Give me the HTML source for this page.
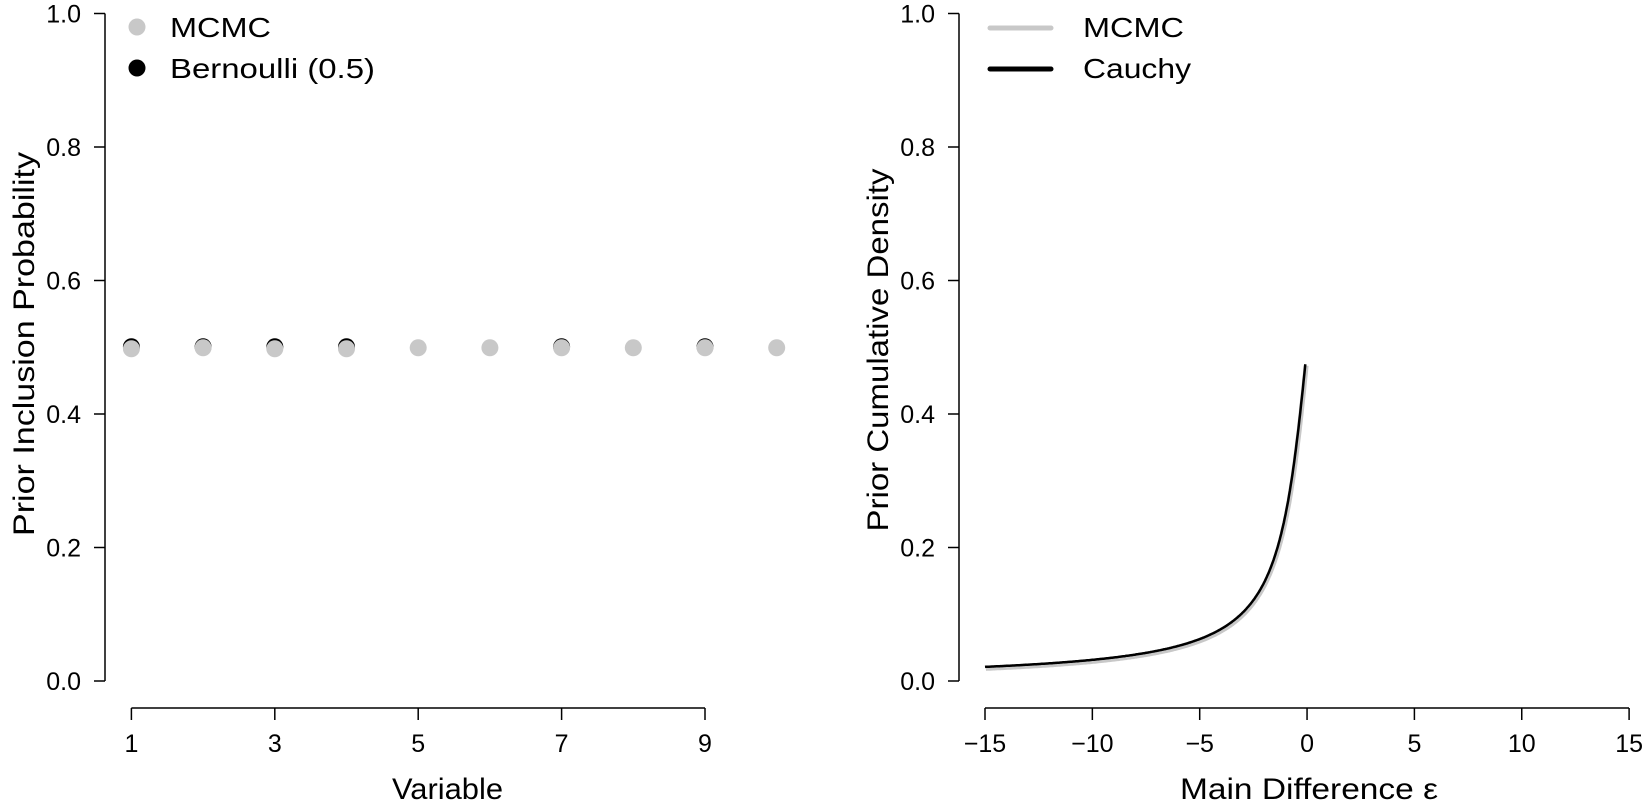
<!DOCTYPE html>
<html><head><style>
html,body{margin:0;padding:0;background:#fff}
svg{display:block;font-family:"Liberation Sans",sans-serif}
</style></head><body>
<svg id="s" width="1648" height="812" xmlns="http://www.w3.org/2000/svg">
<g stroke="#000" stroke-width="1.5" fill="none">
<line x1="105" y1="13.5" x2="105" y2="681"/>
<line x1="131.4" y1="708" x2="705" y2="708"/>
<line x1="959" y1="13.5" x2="959" y2="681"/>
<line x1="985" y1="708" x2="1629" y2="708"/>
</g>
<g id="ticks" stroke="#000" stroke-width="1.5"></g>
<g id="labs" font-size="25" fill="#000"></g>
<text x="392" y="799" font-size="30" textLength="111" lengthAdjust="spacingAndGlyphs">Variable</text>
<text x="1180" y="799" font-size="30" textLength="258" lengthAdjust="spacingAndGlyphs">Main Difference ε</text>
<text transform="translate(34,344) rotate(-90)" font-size="30" text-anchor="middle" textLength="384" lengthAdjust="spacingAndGlyphs">Prior Inclusion Probability</text>
<text transform="translate(888,350) rotate(-90)" font-size="30" text-anchor="middle" textLength="363" lengthAdjust="spacingAndGlyphs">Prior Cumulative Density</text>
<g id="pts"></g>
<path id="c1" fill="none" stroke="#c8c8c8" stroke-width="5"/>
<path id="c2" fill="none" stroke="#000" stroke-width="2.5"/>
<circle cx="137" cy="27" r="8.5" fill="#c8c8c8"/>
<circle cx="137" cy="68" r="8.5" fill="#000"/>
<text x="170" y="37" font-size="28" textLength="101" lengthAdjust="spacingAndGlyphs">MCMC</text>
<text x="170" y="78" font-size="28" textLength="205" lengthAdjust="spacingAndGlyphs">Bernoulli (0.5)</text>
<line x1="990" y1="28" x2="1051" y2="28" stroke="#c8c8c8" stroke-width="5" stroke-linecap="round"/>
<line x1="990" y1="69" x2="1051" y2="69" stroke="#000" stroke-width="5" stroke-linecap="round"/>
<text x="1083" y="37" font-size="28" textLength="101" lengthAdjust="spacingAndGlyphs">MCMC</text>
<text x="1083" y="78" font-size="28" textLength="108" lengthAdjust="spacingAndGlyphs">Cauchy</text>
</svg>
<script>
var NS="http://www.w3.org/2000/svg";
function el(p,t,a,txt){var e=document.createElementNS(NS,t);for(var k in a)e.setAttribute(k,a[k]);if(txt!==undefined)e.textContent=txt;document.getElementById(p).appendChild(e);}
function Y(v){return 681-v*667.5;}
var yl=["0.0","0.2","0.4","0.6","0.8","1.0"];
for(var i=0;i<6;i++){var y=Y(i*0.2);
 el("ticks","line",{x1:94,y1:y,x2:105,y2:y});
 el("ticks","line",{x1:948,y1:y,x2:959,y2:y});
 el("labs","text",{x:81,y:y+9,"text-anchor":"end"},yl[i]);
 el("labs","text",{x:935,y:y+9,"text-anchor":"end"},yl[i]);}
function LX(v){return 131.4+(v-1)*71.7;}
for(var v=1;v<=9;v+=2){el("ticks","line",{x1:LX(v),y1:708,x2:LX(v),y2:720});
 el("labs","text",{x:LX(v),y:752,"text-anchor":"middle"},v);}
function RX(v){return 985+(v+15)*21.47;}
for(var v=-15;v<=15;v+=5){el("ticks","line",{x1:RX(v),y1:708,x2:RX(v),y2:720});
 el("labs","text",{x:RX(v),y:752,"text-anchor":"middle"},(v<0?"\u2212"+(-v):v));}
[1,2,3,4,7,9].forEach(function(v){el("pts","circle",{cx:LX(v),cy:Y(0.5)-0.5,r:8.5,fill:"#000"});});
for(var v=1;v<=10;v++){el("pts","circle",{cx:LX(v),cy:Y(0.5)+(v==3||v==1||v==4?1.5:0.5),r:8.5,fill:"#c8c8c8"});}
var d1="",d2="";
for(var x=-15;x<=-0.06;x+=0.04){var c=0.5+Math.atan(x)/Math.PI;
 d2+=(d2?"L":"M")+RX(x).toFixed(1)+" "+Y(c).toFixed(1);
 d1+=(d1?"L":"M")+(RX(x)+0.8).toFixed(1)+" "+(Y(c)+1.5).toFixed(1);}
document.getElementById("c1").setAttribute("d",d1);
document.getElementById("c2").setAttribute("d",d2);
</script>
</body></html>
